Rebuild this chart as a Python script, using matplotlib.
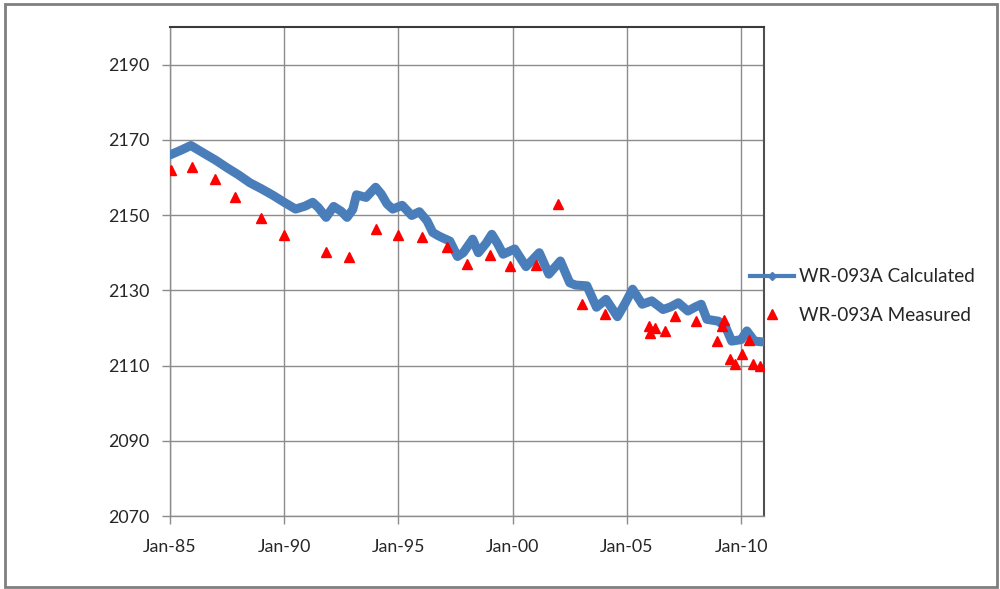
import matplotlib
matplotlib.use("Agg")
import matplotlib.pyplot as plt
import matplotlib.dates as mdates
from matplotlib.lines import Line2D
from matplotlib.patches import Rectangle
import pandas as pd

# Simulated water level (model output, key points)
calc_dates = [
    "1985-01", "1985-07", "1985-12", "1986-07", "1987-01", "1987-07", "1988-01",
    "1988-07", "1989-01", "1989-07", "1990-01", "1990-07", "1990-12", "1991-04",
    "1991-07", "1991-11", "1992-03", "1992-07", "1992-10", "1993-01", "1993-03",
    "1993-08", "1994-01", "1994-04", "1994-07", "1994-10", "1995-03", "1995-08",
    "1995-12", "1996-04", "1996-07", "1996-10", "1996-12", "1997-04", "1997-08",
    "1997-11", "1998-04", "1998-07", "1998-11", "1999-02", "1999-05", "1999-08",
    "2000-02", "2000-08", "2001-03", "2001-08", "2002-02", "2002-07", "2002-10",
    "2003-04", "2003-09", "2004-02", "2004-08", "2004-12", "2005-04", "2005-09",
    "2006-02", "2006-08", "2006-12", "2007-04", "2007-09", "2008-01", "2008-04",
    "2008-07", "2009-01", "2009-05", "2009-08", "2010-01", "2010-04", "2010-08",
    "2010-12",
]
calc_values = [
    2166.0, 2167.3, 2168.5, 2166.4, 2164.6, 2162.6, 2160.7,
    2158.6, 2157.0, 2155.3, 2153.4, 2151.6, 2152.4, 2153.4,
    2152.0, 2149.4, 2152.3, 2151.0, 2149.4, 2151.5, 2155.4,
    2154.7, 2157.4, 2155.6, 2153.0, 2151.6, 2152.6, 2149.9,
    2150.9, 2148.5, 2145.4, 2144.5, 2144.0, 2143.1, 2139.0,
    2140.0, 2143.6, 2140.0, 2142.5, 2144.9, 2142.5, 2139.6,
    2141.0, 2136.3, 2140.0, 2134.3, 2137.8, 2132.0, 2131.4,
    2131.2, 2125.5, 2127.6, 2123.0, 2126.5, 2130.3, 2126.3,
    2127.2, 2124.9, 2125.6, 2126.7, 2124.5, 2125.6, 2126.3,
    2122.3, 2121.8, 2120.1, 2116.5, 2116.9, 2119.2, 2116.5,
    2116.3,
]

# Field measurements
meas_dates = [
    "1985-01-15", "1985-12-20", "1986-12-15", "1987-11-01", "1988-12-20",
    "1989-12-28", "1991-10-25", "1992-10-28", "1994-01-01", "1994-12-28",
    "1996-01-05", "1997-02-15", "1997-12-28", "1999-01-05", "1999-11-15",
    "2001-01-15", "2002-01-01", "2003-01-05", "2004-01-10", "2005-12-20",
    "2006-01-05", "2006-03-28", "2006-08-25", "2007-02-01", "2008-01-08",
    "2008-12-05", "2009-02-25", "2009-03-28", "2009-07-12", "2009-09-28",
    "2010-01-20", "2010-05-01", "2010-07-10", "2010-10-25",
]
meas_values = [
    2161.9, 2162.7, 2159.6, 2154.7, 2149.2,
    2144.7, 2140.3, 2138.9, 2146.2, 2144.7,
    2144.2, 2141.5, 2136.9, 2139.3, 2136.5,
    2136.8, 2152.9, 2126.5, 2123.8, 2120.5,
    2118.7, 2120.1, 2119.1, 2123.1, 2121.8,
    2116.5, 2120.4, 2122.1, 2111.8, 2110.5,
    2113.1, 2116.8, 2110.5, 2110.0,
]

y_ticks = [2070, 2090, 2110, 2130, 2150, 2170, 2190]
x_tick_years = [1985, 1990, 1995, 2000, 2005, 2010]
series_names = ["WR-093A Calculated", "WR-093A Measured"]

FONT = "Lato"
GRID = "#8c8c8c"
TEXT = "#262626"
BLUE = "#4a7ebb"
RED = "#ff0000"

fig = plt.figure(figsize=(10, 5.89), dpi=100)
ax = fig.add_axes([0.170, 0.1239, 0.594, 0.8302])

calc_x = pd.to_datetime(calc_dates)
meas_x = pd.to_datetime(meas_dates)

ax.plot(calc_x, calc_values, color=BLUE, lw=6.5,
        solid_joinstyle="round", solid_capstyle="round", zorder=3)
ax.plot(meas_x, meas_values, linestyle="none", marker="^",
        markersize=6.5, color=RED, zorder=4)

ax.set_xlim(pd.Timestamp("1985-01-01"), pd.Timestamp("2010-12-31"))
ax.set_ylim(2070, 2200)
ax.set_yticks(y_ticks)
ax.set_xticks([pd.Timestamp(f"{y}-01-01") for y in x_tick_years])
ax.xaxis.set_major_formatter(mdates.DateFormatter("Jan-%y"))

ax.grid(True, color=GRID, lw=1.0)
ax.set_axisbelow(True)
ax.tick_params(axis="both", direction="out", length=5.5, width=1.0,
               color=GRID, labelcolor=TEXT, labelsize=12.8)
ax.tick_params(axis="y", pad=9.5)
ax.tick_params(axis="x", pad=11)
for lab in ax.get_xticklabels() + ax.get_yticklabels():
    lab.set_fontfamily(FONT)

for side in ("left", "bottom"):
    ax.spines[side].set_color(GRID)
    ax.spines[side].set_linewidth(1.0)
ax.spines["top"].set_color("#3a3a3a")
ax.spines["top"].set_linewidth(1.5)
ax.spines["right"].set_color("#505050")
ax.spines["right"].set_linewidth(1.5)

# legend keys: series line with its small point marker, and the triangle
calc_key = Line2D([], [], color=BLUE, lw=3.0, marker="D", markersize=4,
                  markerfacecolor=BLUE, markeredgecolor=BLUE)
meas_key = Line2D([], [], linestyle="none", marker="^", markersize=6.5,
                  color=RED)
leg = fig.legend(handles=[calc_key, meas_key], labels=series_names,
                 loc="center left", bbox_to_anchor=(0.750, 0.4975),
                 frameon=False, borderpad=0, borderaxespad=0,
                 handlelength=2.35, handletextpad=0.27, labelspacing=1.12,
                 prop={"family": FONT, "size": 13.6})
for t in leg.get_texts():
    t.set_color(TEXT)

# outer chart frame
fig.patches.append(Rectangle((0.005, 0.003), 0.992, 0.991,
                             transform=fig.transFigure, fill=False,
                             edgecolor="#7f7f7f", lw=2.0))

fig.savefig("out.png", dpi=100)
